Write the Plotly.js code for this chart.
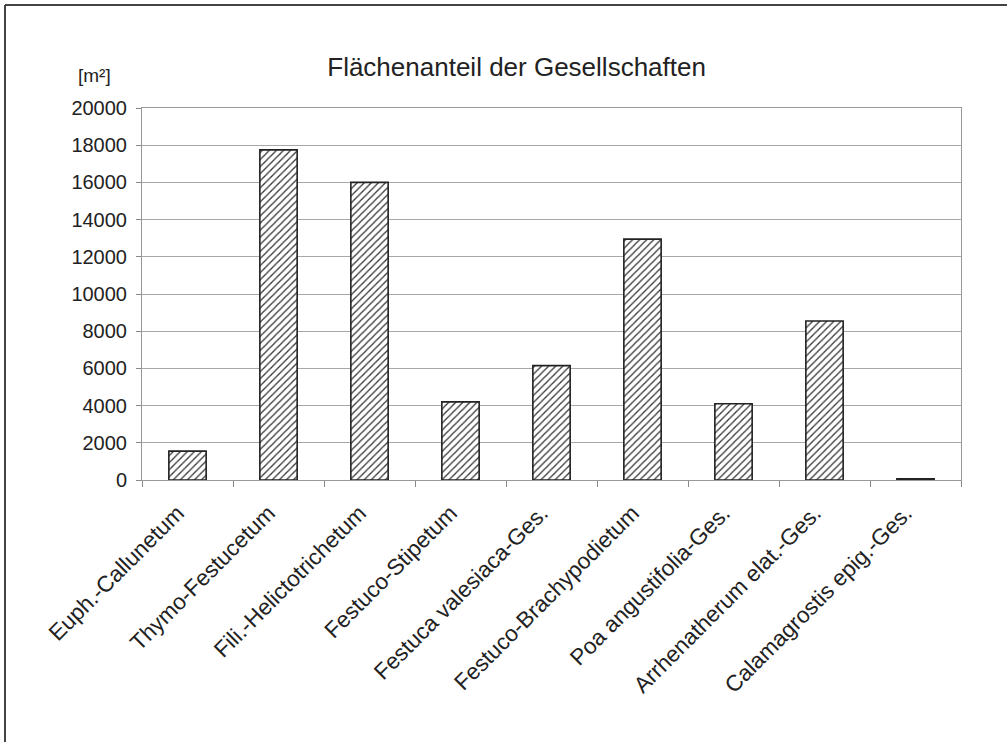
<!DOCTYPE html>
<html>
<head>
<meta charset="utf-8">
<script src="https://cdn.plot.ly/plotly-3.0.1.min.js"></script>
<style>html,body{margin:0;padding:0;background:#fff;}#chart{width:1007px;height:742px;}</style>
</head>
<body>
<div id="chart"></div>
<script>
const categories = ["Euph.-Callunetum", "Thymo-Festucetum", "Fili.-Helictotrichetum", "Festuco-Stipetum", "Festuca valesiaca-Ges.", "Festuco-Brachypodietum", "Poa angustifolia-Ges.", "Arrhenatherum elat.-Ges.", "Calamagrostis epig.-Ges."];
const areaValues = [1550, 17750, 16000, 4200, 6150, 12950, 4100, 8550, 60];
const yTickValues = [0, 2000, 4000, 6000, 8000, 10000, 12000, 14000, 16000, 18000, 20000];
const titleText = "Flächenanteil der Gesellschaften";
const unitText = "[m²]";

const trace = {
  type: "bar",
  x: categories,
  y: areaValues,
  width: 0.41,
  marker: {
    color: "#ffffff",
    line: {color: "#222222", width: 1.6},
    pattern: {shape: "/", fgcolor: "#333333", bgcolor: "#ffffff", size: 5, solidity: 0.25}
  },
  hoverinfo: "x+y"
};

const layout = {
  width: 1007, height: 742,
  margin: {l: 142, r: 46, t: 108, b: 262},
  paper_bgcolor: "#ffffff",
  plot_bgcolor: "#ffffff",
  showlegend: false,
  font: {family: "Liberation Sans, Arial, sans-serif", color: "#222222"},
  title: {
    text: titleText,
    font: {size: 26, color: "#222222", family: "Liberation Sans, Arial, sans-serif"},
    x: 0.513, xref: "container", xanchor: "center",
    y: 1 - 67 / 742, yref: "container", yanchor: "middle"
  },
  xaxis: {
    type: "category",
    tickangle: -45,
    tickson: "boundaries",
    ticks: "outside", ticklen: 6, tickcolor: "#888888", tickwidth: 1,
    ticklabelstandoff: 10, ticklabelshift: -10,
    showline: true, linecolor: "#999999", linewidth: 1, mirror: true,
    showgrid: false,
    tickfont: {size: 22.5, color: "#222222"},
    range: [-0.5, 8.5]
  },
  yaxis: {
    range: [0, 20000],
    tickvals: yTickValues,
    ticktext: yTickValues.map(v => String(v)),
    ticks: "outside", ticklen: 5, tickcolor: "#888888",
    ticklabelstandoff: 5,
    showline: true, linecolor: "#999999", linewidth: 1, mirror: true,
    showgrid: true, gridcolor: "#a8a8a8", gridwidth: 1,
    zeroline: false,
    tickfont: {size: 20, color: "#222222"}
  },
  annotations: [{
    text: unitText, xref: "paper", yref: "paper",
    x: (94 - 142) / 819, y: (480 - 75) / 372,
    xanchor: "center", yanchor: "middle", showarrow: false,
    font: {size: 19, color: "#222222"}
  }],
  shapes: [
    {type: "line", xref: "paper", yref: "paper",
     x0: (5 - 142) / 819, x1: (5 - 142) / 819, y0: (480 - 5) / 372, y1: (480 - 742) / 372,
     line: {color: "#444444", width: 2}},
    {type: "line", xref: "paper", yref: "paper",
     x0: (5 - 142) / 819, x1: (1007 - 142) / 819, y0: (480 - 5) / 372, y1: (480 - 5) / 372,
     line: {color: "#444444", width: 2}}
  ]
};

Plotly.newPlot("chart", [trace], layout, {displayModeBar: false, staticPlot: true});
</script>
</body>
</html>
